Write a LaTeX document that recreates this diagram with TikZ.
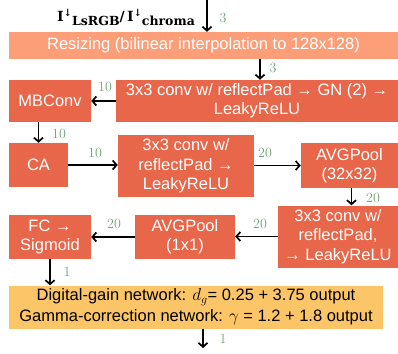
\documentclass[tikz,border=0pt]{standalone}
\usepackage{fontspec}
\newfontfamily\boxfont{Liberation Sans}
\newfontfamily\lblfont{DejaVu Serif}
\usetikzlibrary{arrows.meta}
\definecolor{coral}{RGB}{232,102,74}
\definecolor{salmonlt}{RGB}{252,158,120}
\definecolor{gold}{RGB}{252,197,104}
\definecolor{numgreen}{RGB}{112,163,122}
\newcommand{\imgsym}[1]{I\raisebox{5pt}{\fontsize{10}{10}\selectfont ↓}\raisebox{-4pt}{\fontsize{12.5}{12.5}\selectfont #1}}
\tikzset{
	blk/.style={fill=coral, text=white, font=\boxfont\fontsize{16.5}{19.3}\selectfont, align=center, inner sep=0pt},
	arr/.style={line width=1.7pt, -{Straight Barb[length=4pt,width=9pt]}},
	num/.style={text=numgreen, font=\fontsize{14}{14}\selectfont, inner sep=0pt},
}

\begin{document}
\begin{tikzpicture}[x=1pt,y=-1pt]
			%%%%% START %%%%%
			\useasboundingbox (0,0) rectangle (398,353);
			
			\node[font=\lblfont\bfseries\fontsize{14}{14}\selectfont, inner sep=0pt, anchor=base west] (inLbl) at (57,22) {\imgsym{LsRGB}/\,\imgsym{chroma}};
			\coordinate (inTop) at (207,0);
			
			\node[blk, fill=salmonlt, minimum width=389, minimum height=27] (resize) at (203.5,45.5) {Resizing (bilinear interpolation to 128x128)};
			
			\node[blk, minimum width=282, minimum height=42] (conv1) at (257,101) {3x3 conv w/ reflectPad → GN (2) →\\LeakyReLU};
			\node[blk, minimum width=82, minimum height=42] (mbconv) at (50,101) {MBConv};
			
			\node[blk, minimum width=59, minimum height=44] (ca) at (38.5,165) {CA};
			\node[blk, minimum width=136, minimum height=62] (conv2) at (186,166) {3x3 conv w/\\reflectPad →\\LeakyReLU};
			\node[blk, minimum width=97, minimum height=45] (pool1) at (349.5,165.5) {AVGPool\\(32x32)};
			
			\node[blk, minimum width=120, minimum height=62] (conv3) at (338,236.5) {3x3 conv w/\\reflectPad,\\→ LeakyReLU};
			\node[blk, minimum width=100, minimum height=44] (pool2) at (185,237) {AVGPool\\(1x1)};
			\node[blk, minimum width=82, minimum height=44] (fc) at (50,237) {FC →\\Sigmoid};
			
			\node[blk, fill=gold, text=black, font=\boxfont\fontsize{16.5}{21}\selectfont, minimum width=374, minimum height=43] (gamma) at (196,307) {Digital-gain network: $d_g$= 0.25 + 3.75 output\\Gamma-correction network: $\gamma$ = 1.2 + 1.8 output};
			\coordinate (outBot) at (203,348);
			
			% connectors
			\draw[arr] (inTop) -- (inTop |- resize.north);
			\draw[arr] ([xshift=3pt]conv1.north |- resize.south) -- ([xshift=3pt]conv1.north);
			\draw[arr] (conv1.west) -- (mbconv.east);
			\draw[arr] (ca.north |- mbconv.south) -- (ca.north);
			\draw[arr] (ca.east) -- (ca.east -| conv2.west);
			\draw[arr] (conv2.east |- pool1.west) -- (pool1.west);
			\draw[arr] ([xshift=2pt]pool1.south) -- ([xshift=2pt]pool1.south |- conv3.north);
			\draw[arr] (conv3.west) -- (conv3.west -| pool2.east);
			\draw[arr] (pool2.west) -- (pool2.west -| fc.east);
			\draw[arr] (fc.south) -- (fc.south |- gamma.north);
			\draw[arr] (gamma.south -| outBot) -- (outBot);
			
			% channel counts
			\node[num] (n1) at (223,18) {3};
			\node[num] (n2) at (273,68) {3};
			\node[num] (n3) at (105,87) {10};
			\node[num] (n4) at (59,134) {10};
			\node[num] (n5) at (95,153) {10};
			\node[num] (n6) at (265,153) {20};
			\node[num] (n7) at (373,198) {20};
			\node[num] (n8) at (260,224) {20};
			\node[num] (n9) at (114,224) {20};
			\node[num] (n10) at (67,272) {1};
			\node[num] (n11) at (223,339) {1};
			
			%%%%% END %%%%%
\end{tikzpicture}
\end{document}
